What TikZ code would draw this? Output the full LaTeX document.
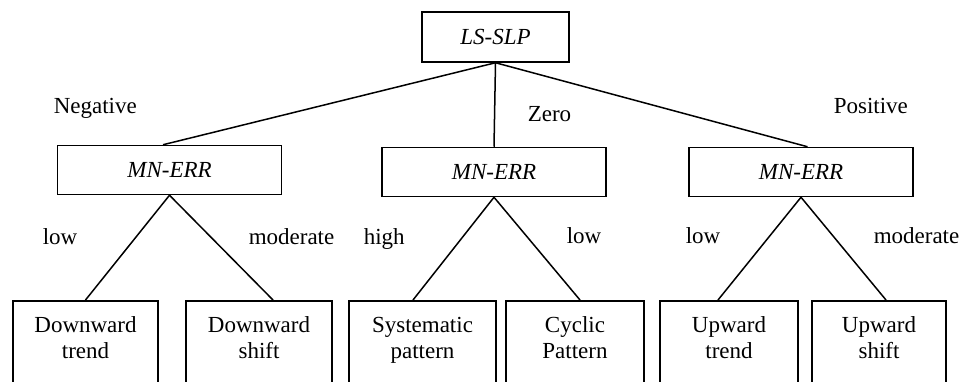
\documentclass[tikz,border=0pt]{standalone}
\usepackage{fontspec}
\setmainfont{Liberation Serif}
\begin{document}
\begin{tikzpicture}[x=1pt,y=-1pt,line width=1.5pt,
  topbox/.style={draw,minimum width=147pt,minimum height=50pt,inner sep=0pt,font=\fontsize{23}{26}\selectfont\itshape},
  midbox/.style={draw,minimum width=224pt,minimum height=49pt,inner sep=0pt,font=\fontsize{23}{26}\selectfont\itshape},
  leaf/.style={draw,anchor=north,inner sep=0pt,text height=32pt,text depth=110pt,font=\fontsize{23}{26}\selectfont},
  lbl/.style={anchor=base west,inner sep=0pt,font=\fontsize{23}{26}\selectfont}]
\useasboundingbox (0,0) rectangle (973,382);
\clip (0,0) rectangle (973,382);

\node[topbox] (top) at (495.5,37) {LS-SLP};

\node[midbox] (m1) at (169.5,170) {MN-ERR};
\node[midbox] (m2) at (494,172) {MN-ERR};
\node[midbox] (m3) at (801,172) {MN-ERR};

\node[leaf,minimum width=145pt] (l1) at (85.5,300) {\parbox[t]{120pt}{\centering Downward\\trend}};
\node[leaf,minimum width=146pt] (l2) at (259,300) {\parbox[t]{120pt}{\centering Downward\\shift}};
\node[leaf,minimum width=147pt] (l3) at (422.5,300) {\parbox[t]{120pt}{\centering Systematic\\pattern}};
\node[leaf,minimum width=138pt] (l4) at (575,300) {\parbox[t]{120pt}{\centering Cyclic\\Pattern}};
\node[leaf,minimum width=138pt] (l5) at (729,300) {\parbox[t]{120pt}{\centering Upward\\trend}};
\node[leaf,minimum width=134pt] (l6) at (879,300) {\parbox[t]{120pt}{\centering Upward\\shift}};

\draw (top.south) -- ([xshift=-6.5pt]m1.north);
\draw (top.south) -- (m2.north);
\draw (top.south) -- ([xshift=6.5pt]m3.north);
\draw (m1.south) -- (l1.north);
\draw (m1.south) -- ([xshift=14pt]l2.north);
\draw (m2.south) -- ([xshift=-9.5pt]l3.north);
\draw (m2.south) -- ([xshift=5pt]l4.north);
\draw (m3.south) -- ([xshift=-11pt]l5.north);
\draw (m3.south) -- ([xshift=7pt]l6.north);

\node[lbl] (tneg) at (53,114) {Negative};
\node[lbl] (tzero) at (527,122) {Zero};
\node[lbl] (tpos) at (833,114) {Positive};
\node[lbl] (t1) at (42,244) {low};
\node[lbl] (t2) at (248,244) {moderate};
\node[lbl] (t3) at (363,244) {high};
\node[lbl] (t4) at (566,243) {low};
\node[lbl] (t5) at (685,243) {low};
\node[lbl] (t6) at (873,243) {moderate};
\end{tikzpicture}
\end{document}
